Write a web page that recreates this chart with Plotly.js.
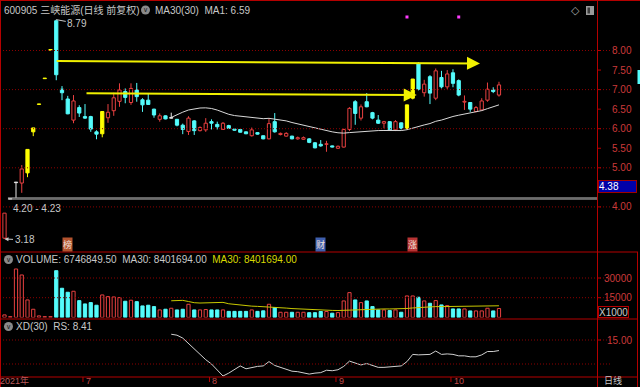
<!DOCTYPE html>
<html><head><meta charset="utf-8">
<script src="https://cdn.plot.ly/plotly-3.0.1.min.js"></script>
<style>html,body{margin:0;padding:0;background:#000;overflow:hidden}#c{width:640px;height:387px}</style>
</head><body><div id="c"></div>
<script>
// ---------------- data ----------------
const opens  = [3.20,4.20,4.62,4.61,4.87,5.92,6.62,7.28,8.01,8.76,7.01,6.76,6.22,6.54,6.31,6.31,5.92,5.87,6.28,6.46,6.70,6.95,6.67,6.99,6.74,6.73,6.50,6.24,6.33,6.27,6.24,6.09,5.93,6.20,5.95,5.97,6.18,6.11,5.98,6.08,5.99,5.98,5.92,5.82,5.90,5.82,5.74,6.18,5.85,5.81,5.81,5.74,5.73,5.74,5.64,5.60,5.60,5.56,5.50,5.53,5.98,6.69,6.27,6.69,6.41,6.22,6.14,6.18,5.97,6.15,6.00,6.78,7.67,6.92,7.33,6.78,7.31,7.07,7.43,7.23,6.68,6.67,6.44,6.48,6.73,6.99,6.86];
const highs  = [3.84,4.20,4.62,5.07,5.47,6.02,6.62,7.28,8.01,8.79,7.09,6.84,6.86,6.60,6.63,6.33,5.96,6.44,6.63,6.92,7.16,7.03,7.16,7.17,6.78,6.91,6.51,6.39,6.34,6.41,6.25,6.13,6.32,6.22,6.06,6.27,6.24,6.18,6.17,6.10,6.00,5.99,5.93,6.03,5.91,5.83,6.27,6.40,5.90,5.91,5.82,5.80,5.80,5.76,5.66,5.71,5.69,5.57,5.57,6.00,6.55,6.73,6.62,6.91,6.43,6.35,6.20,6.19,6.22,6.16,6.61,7.27,7.70,7.25,7.37,7.54,7.48,7.50,7.52,7.26,6.85,6.68,6.58,6.78,7.18,7.06,7.20];
const lows   = [3.18,4.20,4.23,4.36,4.76,5.81,6.62,7.28,8.01,7.24,6.73,6.37,6.14,6.30,6.25,5.92,5.73,5.78,6.15,6.33,6.56,6.65,6.61,6.69,6.43,6.61,6.28,6.18,6.24,6.26,6.06,5.86,5.84,5.84,5.93,5.92,5.98,5.98,5.97,5.99,5.95,5.90,5.86,5.80,5.85,5.73,5.73,5.90,5.83,5.80,5.73,5.72,5.72,5.63,5.50,5.54,5.41,5.52,5.48,5.52,5.94,6.10,6.21,6.55,6.24,6.12,6.01,5.96,5.94,5.98,5.99,6.75,6.98,6.82,6.63,6.73,7.03,7.01,7.06,6.83,6.48,6.43,6.42,6.46,6.69,6.91,6.82];
const closes = [3.84,4.20,4.62,4.97,5.47,6.02,6.62,7.28,8.01,7.38,6.92,6.38,6.71,6.40,6.27,5.99,5.86,6.44,6.42,6.79,6.99,6.80,7.03,6.82,6.61,6.62,6.35,6.33,6.25,6.27,6.09,5.98,6.27,5.95,6.03,6.14,6.14,6.05,6.14,6.01,5.96,5.91,5.87,5.97,5.86,5.74,6.13,5.92,5.88,5.88,5.74,5.77,5.77,5.65,5.51,5.56,5.61,5.53,5.55,5.98,6.52,6.39,6.56,6.56,6.27,6.14,6.18,5.97,6.18,6.01,6.61,7.27,7.01,7.14,6.91,7.48,7.07,7.40,7.16,6.86,6.70,6.50,6.54,6.71,7.01,6.95,7.12];
// candle kind: u = up (red hollow), d = down (cyan), y = limit-up (yellow), w = flat (white)
const kinds  = ['u','w','w','u','y','y','y','y','y','d','d','d','u','d','d','d','d','y','u','u','u','d','u','d','d','d','d','u','d','w','d','d','u','d','u','u','d','d','u','d','d','d','d','u','d','d','u','d','u','u','d','u','u','d','d','d','u','d','u','u','u','d','u','d','d','d','u','d','u','d','y','y','d','u','d','u','d','u','d','d','u','d','u','u','u','d','u'];
// volume, x1000
const volumes = [1900,600,36860,32300,13300,6200,1140,600,600,35570,22190,19150,19910,12770,10260,11250,9270,17100,15810,15580,15050,12310,13070,12010,8740,9270,8210,5700,6230,6970,5700,6200,10000,5700,5700,6000,5700,5700,5700,4600,4600,4600,4600,5700,4600,5000,10000,7500,3900,3900,3900,3900,3900,3600,3600,4500,4500,3200,3650,12540,18850,13300,11250,12540,8230,5700,5700,5190,5700,3930,16340,16340,15330,12540,10770,12790,9500,9000,6460,6460,6460,4940,4940,4940,6970,4940,6750];
// XD(30) indicator, starts at the 30th day
const xdValues = [null,null,null,null,null,null,null,null,null,null,null,null,null,null,null,null,null,null,null,null,null,null,null,null,null,null,null,null,null,
  16.2,16.0,15.4,14.3,13.1,11.9,10.9,10.0,8.8,7.5,8.1,8.8,9.6,9.0,9.3,9.5,9.6,10.5,9.7,9.3,9.0,8.5,8.4,8.2,7.9,8.1,8.2,8.7,8.6,8.8,9.5,10.6,10.2,9.8,10.1,9.7,9.3,9.3,9.4,9.5,9.6,10.5,12.0,11.9,11.9,12.0,12.7,12.0,12.1,12.0,11.7,11.7,11.5,11.5,11.9,12.6,12.6,12.8];
const priceTicks = [8.00,7.50,7.00,6.50,6.00,5.50,5.00,4.00];
const priceGrid  = [8,7,6,5,4];
const volTicks   = [30000,15000];
const xdTicks    = [15];
const xdGrid     = [15,10];
const monthLabels = ['7','8','9','10'];
const monthStarts = [14,36,58,78];
const gapLow = 4.20, gapHigh = 4.23, gapStartIdx = 1;
const highMark = {i:9, v:8.79};
const lowMark  = {i:0, v:3.18};
const eventIdx = [70,79];
const tags = [{i:11,t:'榜',bg:'#b4532e'},{i:55,t:'财',bg:'#3f5fae'},{i:71,t:'涨',bg:'#b83434'}];
const arrowsData = [{x0:8.8,y0:7.73,x1:82.7,y1:7.67},{x0:14,y0:6.905,x1:71.7,y1:6.86}];
const MA_N = 30;

// ---------------- styles ----------------
const FONT = 'Liberation Sans, Noto Sans CJK SC, sans-serif';
const RED = '#e84040', CYAN = '#54fcfc', YEL = '#ffff00', WHITE = '#e8e8e8';
const AXRED = '#b40000', LBL = '#cc3a3a', GRID = '#8c0000', TXT = '#c8c8c8';
const PX = x => x/640, PY = y => 1 - y/387;
const priceRange = [2.8465, 9.266], volRange = [0, 49796], xdRange = [7.292, 19.375];
const xRange = [-0.783, 103.05];

const idx = closes.map((_, i) => i);
const colorOf = k => k==='u'?RED:k==='d'?CYAN:k==='y'?YEL:WHITE;

const bodyBase = idx.map(i => Math.min(opens[i], closes[i]));
const bodyH = idx.map(i => Math.max(Math.abs(closes[i]-opens[i]), 0.014));
const bodyFill = kinds.map(k => k==='u' ? '#000000' : colorOf(k));
const bodyLine = kinds.map(colorOf);

const wickTraces = ['u','d','y','w'].map(k => {
  const xs = [], ys = [];
  idx.forEach(i => {
    if (kinds[i] !== k) return;
    const top = Math.max(opens[i], closes[i]), bot = Math.min(opens[i], closes[i]);
    if (highs[i] > top) { xs.push(i, i, null); ys.push(top, highs[i], null); }
    if (lows[i] < bot) { xs.push(i, i, null); ys.push(lows[i], bot, null); }
  });
  return {type:'scatter', mode:'lines', x:xs, y:ys, xaxis:'x', yaxis:'y',
    line:{color:colorOf(k), width:1}, hoverinfo:'skip', connectgaps:false};
});

function movingAvg(arr, n) {
  return arr.map((_, i) => {
    if (i < n-1) return null;
    let s = 0; for (let j = i-n+1; j <= i; j++) s += arr[j];
    return s / n;
  });
}
const ma30 = movingAvg(closes, MA_N);
const volMa30 = movingAvg(volumes, MA_N);

const volFill = kinds.map(k => k==='d' ? CYAN : '#000000');
const volLine = kinds.map(k => k==='d' ? CYAN : RED);

const eventY = priceRange[1] - 16/39.125;

const data = [
  ...wickTraces,
  {type:'bar', x:idx, y:bodyH, base:bodyBase, width:0.56, xaxis:'x', yaxis:'y',
   marker:{color:bodyFill, line:{color:bodyLine, width:1}}, hoverinfo:'skip'},
  {type:'scatter', mode:'lines', x:idx, y:ma30, xaxis:'x', yaxis:'y',
   line:{color:'#d8d8d8', width:1}, hoverinfo:'skip'},
  {type:'scatter', mode:'markers', x:eventIdx, y:eventIdx.map(() => eventY), xaxis:'x', yaxis:'y',
   marker:{symbol:'square', size:3, color:'#ff3cff'}, hoverinfo:'skip'},
  {type:'bar', x:idx, y:volumes, width:0.56, xaxis:'x', yaxis:'y2',
   marker:{color:volFill, line:{color:volLine, width:1}}, hoverinfo:'skip'},
  {type:'scatter', mode:'lines', x:idx, y:volMa30, xaxis:'x', yaxis:'y2',
   line:{color:'#c8c800', width:1}, hoverinfo:'skip'},
  {type:'scatter', mode:'lines', x:idx, y:xdValues, xaxis:'x', yaxis:'y3',
   line:{color:'#d0d0d0', width:1}, hoverinfo:'skip'}
];

// ---------------- shapes ----------------
const shapes = [];
const hline = (y, x0, x1, color, w) => shapes.push({type:'line', xref:'paper', yref:'paper', x0:PX(x0), x1:PX(x1), y0:PY(y), y1:PY(y), line:{color, width:w||1}});
const vline = (x, y0, y1, color, w) => shapes.push({type:'line', xref:'paper', yref:'paper', x0:PX(x), x1:PX(x), y0:PY(y0), y1:PY(y1), line:{color, width:w||1}});
const dotted = (axis, v) => shapes.push({type:'line', xref:'paper', yref:axis, x0:0, x1:PX(612), y0:v, y1:v, line:{color:GRID, width:1, dash:'1px,2px'}});
priceGrid.forEach(v => dotted('y', v));
volTicks.forEach(v => dotted('y2', v));
xdGrid.forEach(v => dotted('y3', v));
[gapLow, gapHigh].forEach(v => shapes.push({type:'line', xref:'x', yref:'y', x0:gapStartIdx-0.4, x1:xRange[1], y0:v, y1:v, line:{color:'#a8a8a8', width:1}}));
hline(0.5, 0, 640, AXRED); hline(252, 0, 638, AXRED); hline(319, 0, 638, AXRED); hline(377, 0, 638, AXRED);
vline(0.5, 0, 387, AXRED); vline(597.5, 0, 387, AXRED); vline(637.5, 252, 387, AXRED);
const tick = (axis, v) => shapes.push({type:'line', xref:'paper', yref:axis, x0:PX(597), x1:PX(601), y0:v, y1:v, line:{color:AXRED, width:1}});
priceTicks.forEach(v => tick('y', v)); volTicks.forEach(v => tick('y2', v)); xdTicks.forEach(v => tick('y3', v));
monthStarts.forEach(m => shapes.push({type:'line', xref:'x', yref:'paper', x0:m-0.35, x1:m-0.35, y0:PY(377), y1:PY(382), line:{color:AXRED, width:1}}));
[[8.5,259.5],[8.5,326.5],[145.5,10]].forEach(([cx,cy]) => shapes.push({type:'circle', xref:'paper', yref:'paper', x0:PX(cx-4.5), x1:PX(cx+4.5), y0:PY(cy+4.5), y1:PY(cy-4.5), fillcolor:'#8a8a8a', line:{width:0}}));
shapes.push({type:'rect', xref:'paper', yref:'paper', x0:PX(586), x1:PX(594), y0:PY(15), y1:PY(6), fillcolor:'#9a9a9a', line:{width:0}});
shapes.push({type:'rect', xref:'paper', yref:'paper', x0:PX(587.5), x1:PX(590), y0:PY(13.5), y1:PY(7.5), fillcolor:'#3a3a3a', line:{width:0}});
shapes.push({type:'rect', xref:'paper', yref:'paper', x0:PX(637.5), x1:PX(640), y0:PY(84), y1:PY(70), fillcolor:CYAN, line:{width:0}});

// ---------------- annotations ----------------
const ann = [];
const txt = (x, y, text, o) => ann.push(Object.assign({xref:'paper', yref:'paper', x:PX(x), y:PY(y), text, showarrow:false, xanchor:'left', yanchor:'middle', font:{family:FONT, size:10, color:TXT}}, o||{}));
txt(2, 10, '600905 三峡能源(日线 前复权)');
txt(153, 10, 'MA30(30)  MA1: 6.59');
txt(14, 259.5, 'VOLUME: 6746849.50  MA30: 8401694.00  <span style="color:#d8d800">MA30: 8401694.00</span>');
txt(14, 326.5, 'XD(30)  RS: 8.41');
[[8.5,259.5],[8.5,326.5],[145.5,10]].forEach(([cx,cy]) => txt(cx, cy, '∨', {xanchor:'center', font:{family:'DejaVu Sans', size:7, color:'#202020'}}));
txt(575, 10.5, '◇', {xanchor:'center', font:{family:'DejaVu Sans', size:11, color:'#a8a8a8'}});
priceTicks.forEach(v => ann.push({xref:'paper', yref:'y', x:PX(634), y:v, xanchor:'right', yanchor:'middle', text:v.toFixed(2), showarrow:false, font:{family:FONT, size:10, color:LBL}}));
volTicks.forEach(v => ann.push({xref:'paper', yref:'y2', x:PX(634), y:v, xanchor:'right', yanchor:'middle', text:String(v), showarrow:false, font:{family:FONT, size:10, color:LBL}}));
xdTicks.forEach(v => ann.push({xref:'paper', yref:'y3', x:PX(634), y:v, xanchor:'right', yanchor:'middle', text:v.toFixed(2), showarrow:false, font:{family:FONT, size:10, color:LBL}}));
txt(597.5, 312, 'X1000', {bordercolor:AXRED, borderwidth:1, borderpad:0, width:29, height:10, align:'left'});
txt(598, 186, '4.38', {bgcolor:'#0000a8', bordercolor:'#a00000', borderwidth:1, borderpad:0, width:37, height:11, align:'left', font:{family:FONT, size:10, color:'#ffffff'}});
// bottom axis (kept fully inside the picture)
const BOT = {yanchor:'bottom', borderpad:0};
txt(-1, 387, '2021年', Object.assign({font:{family:FONT, size:9, color:'#b85a5a'}}, BOT));
monthStarts.forEach((m, k) => ann.push({xref:'x', yref:'paper', x:m, y:PY(387), xanchor:'left', yanchor:'bottom', borderpad:0, text:monthLabels[k], showarrow:false, font:{family:FONT, size:9, color:'#c04848'}}));
txt(603, 387, '日线', Object.assign({font:{family:FONT, size:9, color:TXT}}, BOT));
ann.push({xref:'x', yref:'y', x:highMark.i, y:highMark.v, text:highMark.v.toFixed(2), showarrow:true, arrowhead:0, arrowwidth:1, arrowcolor:TXT, ax:21, ay:4, font:{family:FONT, size:10, color:TXT}});
ann.push({xref:'x', yref:'y', x:lowMark.i, y:lowMark.v, text:lowMark.v.toFixed(2), showarrow:true, arrowhead:2, arrowsize:0.8, arrowwidth:1, arrowcolor:TXT, ax:20, ay:1, font:{family:FONT, size:10, color:TXT}});
ann.push({xref:'x', yref:'y', x:gapStartIdx, y:gapLow, xanchor:'left', yanchor:'top', xshift:1, yshift:-2, text:gapLow.toFixed(2)+' - '+gapHigh.toFixed(2), showarrow:false, font:{family:FONT, size:10, color:TXT}});
tags.forEach(t => ann.push({xref:'x', yref:'paper', x:t.i, y:PY(251.5), xanchor:'center', yanchor:'bottom', text:t.t, showarrow:false, bgcolor:t.bg, borderpad:0, font:{family:'Noto Sans CJK SC', size:9, color:'#f0e0d8'}}));
arrowsData.forEach(a => ann.push({xref:'x', yref:'y', x:a.x1, y:a.y1, axref:'x', ayref:'y', ax:a.x0, ay:a.y0, text:'', showarrow:true, arrowhead:2, arrowsize:1.3, arrowwidth:2, arrowcolor:'#f0f000'}));

const layout = {
  width:640, height:387, margin:{l:0,r:0,t:0,b:0},
  paper_bgcolor:'#000000', plot_bgcolor:'#000000',
  showlegend:false, hovermode:false, barmode:'overlay', dragmode:false,
  font:{family:FONT, size:10, color:TXT},
  xaxis:{domain:[0, 597/640], range:xRange, visible:false, fixedrange:true},
  yaxis:{domain:[PY(252), PY(1)], range:priceRange, visible:false, fixedrange:true},
  yaxis2:{domain:[PY(317.4), PY(252)], range:volRange, visible:false, fixedrange:true},
  yaxis3:{domain:[PY(377), PY(319)], range:xdRange, visible:false, fixedrange:true},
  shapes, annotations:ann
};
Plotly.newPlot('c', data, layout, {displayModeBar:false, staticPlot:true});
</script></body></html>
